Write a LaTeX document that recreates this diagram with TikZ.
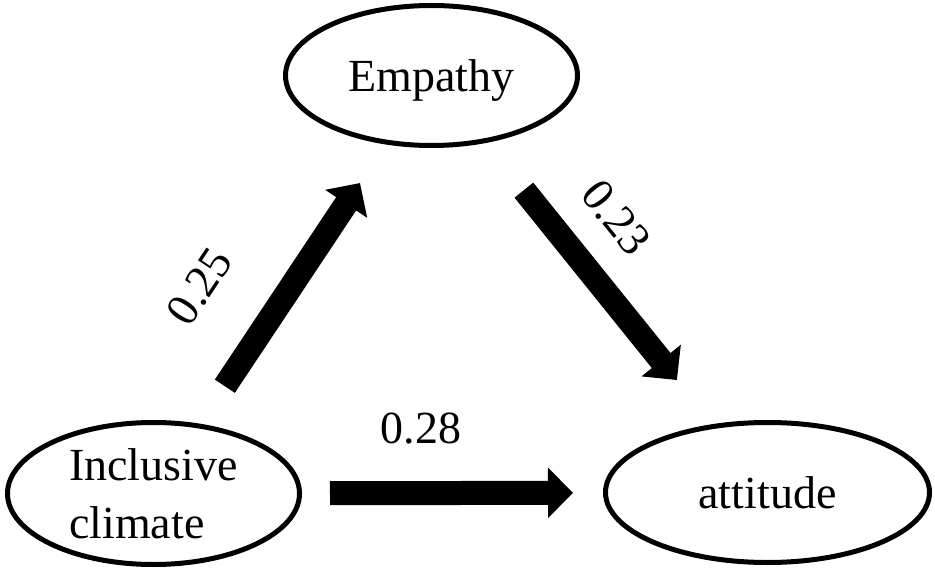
\documentclass[tikz,border=0pt]{standalone}
\usepackage{fontspec}
\setmainfont{Liberation Serif}
\usetikzlibrary{arrows.meta,shapes.geometric}
\tikzset{
	construct/.style={draw, ellipse, line width=5pt, inner sep=0pt, font=\fontsize{46}{58}\selectfont},
	effect/.style={line width=24pt, -{Triangle[width=49pt,length=25pt]}},
	coef/.style={inner sep=0pt, sloped, font=\fontsize{46}{58}\selectfont},
}

\begin{document}
\begin{tikzpicture}[x=1pt, y=1pt]
		%%%%% START %%%%%
		
		\useasboundingbox (0, 0) rectangle (935, 574);
		
		\node[construct, minimum width=292pt, minimum height=140pt, text depth=0pt] (empathy) at (431.5, 498.5) {Empathy\hspace{8pt}};
		\node[construct, minimum width=292pt, minimum height=142pt, align=left] (climate) at (153.5, 80.5) {Inclusive\\climate};
		\node[construct, minimum width=324pt, minimum height=140pt, text depth=0pt] (attitude) at (767.5, 81.5) {attitude\hspace{66pt}};
		
		\draw[effect, shorten <=45pt, shorten >=46.3pt] (climate) -- (empathy) node[coef, pos=0.34, above=49pt] (c25) {0.25};
		\draw[effect, shorten <=60.6pt, shorten >=56.7pt] (empathy) -- (attitude) node[coef, pos=0.387, above=27.4pt] (c23) {0.23};
		\draw[effect, shorten <=28pt, shorten >=30pt] (climate) -- (attitude) node[coef, pos=0.395, above=36.6pt] (c28) {0.28};
		
		%%%%% END %%%%%
	\end{tikzpicture}
\end{document}
